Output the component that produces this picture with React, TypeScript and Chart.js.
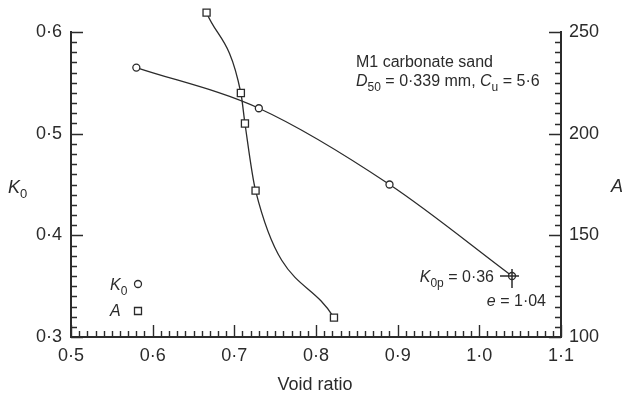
import React, { useEffect, useRef } from "react";
import { Chart, registerables } from "chart.js";

Chart.register(...registerables);

// ---- data ----
const voidRatioK0 = [0.58, 0.73, 0.89, 1.04];
const k0Values = [0.565, 0.525, 0.45, 0.36];
const voidRatioA = [0.666, 0.708, 0.713, 0.726, 0.822];
const aValues = [259.5, 220, 205, 172, 109.5];

const xRange = [0.5, 1.1];
const k0Range = [0.3, 0.6];
const aRange = [100, 250];
const xStep = 0.1;
const k0Step = 0.1;
const aStep = 50;

const FONT = '"Liberation Sans", Arial, Helvetica, sans-serif';
const INK = "#2b2b2b";

const fmt = (v: number) => v.toFixed(1).replace(".", "\u00B7");

type Part = { t: string; it?: boolean; sub?: boolean };

function drawRich(
  ctx: CanvasRenderingContext2D,
  parts: Part[],
  x: number,
  y: number,
  align: "left" | "right" | "center",
  size: number
) {
  const subSize = Math.round(size * 0.72);
  const fontFor = (p: Part) =>
    `${p.it ? "italic " : ""}${p.sub ? subSize : size}px ${FONT}`;
  const widths = parts.map((p) => {
    ctx.font = fontFor(p);
    return ctx.measureText(p.t).width;
  });
  const total = widths.reduce((a, b) => a + b, 0);
  let cx = align === "left" ? x : align === "right" ? x - total : x - total / 2;
  ctx.textBaseline = "alphabetic";
  ctx.textAlign = "left";
  parts.forEach((p, i) => {
    ctx.font = fontFor(p);
    ctx.fillText(p.t, cx, p.sub ? y + size * 0.3 : y);
    cx += widths[i];
  });
}

const decorPlugin = {
  id: "decor",
  afterDatasetsDraw(chart: any) {
    const ctx: CanvasRenderingContext2D = chart.ctx;
    const area = chart.chartArea;
    // points that lie outside the chart area are skipped by Chart.js: draw them here
    chart.data.datasets.forEach((_: any, di: number) => {
      const meta = chart.getDatasetMeta(di);
      meta.data.forEach((pt: any) => {
        if (pt.y < area.top - 2 || pt.y > area.bottom + 2) pt.draw(ctx);
      });
    });
    const x = chart.scales.x;
    const y = chart.scales.y;
    const last = voidRatioK0.length - 1;
    const px = x.getPixelForValue(voidRatioK0[last]);
    const py = y.getPixelForValue(k0Values[last]);
    ctx.save();
    ctx.strokeStyle = INK;
    ctx.lineWidth = 1.5;
    ctx.beginPath();
    ctx.moveTo(px - 12, py);
    ctx.lineTo(px + 7, py);
    ctx.moveTo(px, py - 7);
    ctx.lineTo(px, py + 12);
    ctx.stroke();
    ctx.restore();
  },
  afterDraw(chart: any) {
    const ctx: CanvasRenderingContext2D = chart.ctx;
    const { left, right, top, bottom } = chart.chartArea;
    const x = chart.scales.x;
    const y = chart.scales.y;
    const y1 = chart.scales.y1;
    ctx.save();
    ctx.strokeStyle = INK;
    ctx.lineWidth = 1.4;
    const MAJ = 12;
    const MIN = 6;
    ctx.beginPath();
    // x ticks
    const nx = Math.round((xRange[1] - xRange[0]) / 0.01);
    for (let i = 0; i <= nx; i++) {
      const v = xRange[0] + i * 0.01;
      const p = Math.round(x.getPixelForValue(v)) + 0.5;
      const len = i % 10 === 0 ? MAJ : MIN;
      ctx.moveTo(p, bottom);
      ctx.lineTo(p, bottom - len);
    }
    // left ticks
    const ny = Math.round((k0Range[1] - k0Range[0]) / 0.01);
    for (let i = 0; i <= ny; i++) {
      const v = k0Range[0] + i * 0.01;
      const p = Math.round(y.getPixelForValue(v)) + 0.5;
      const len = i % 10 === 0 ? MAJ : MIN;
      ctx.moveTo(left, p);
      ctx.lineTo(left + len, p);
    }
    // right ticks
    const na = Math.round((aRange[1] - aRange[0]) / 5);
    for (let i = 0; i <= na; i++) {
      const v = aRange[0] + i * 5;
      const p = Math.round(y1.getPixelForValue(v)) + 0.5;
      const len = i % 10 === 0 ? MAJ : MIN;
      ctx.moveTo(right, p);
      ctx.lineTo(right - len, p);
    }
    ctx.stroke();

    ctx.fillStyle = INK;
    // axis titles
    drawRich(ctx, [{ t: "K", it: true }, { t: "0", sub: true }], 8, 193, "left", 18);
    drawRich(ctx, [{ t: "A", it: true }], 611, 192, "left", 18);
    drawRich(ctx, [{ t: "Void ratio" }], 315, 390, "center", 18);

    // annotation
    drawRich(ctx, [{ t: "M1 carbonate sand" }], 356, 67, "left", 16);
    drawRich(
      ctx,
      [
        { t: "D", it: true },
        { t: "50", sub: true },
        { t: " = 0\u00B7339 mm, " },
        { t: "C", it: true },
        { t: "u", sub: true },
        { t: " = 5\u00B76" },
      ],
      356,
      86,
      "left",
      16
    );
    drawRich(
      ctx,
      [{ t: "K", it: true }, { t: "0p", sub: true }, { t: " = 0\u00B736" }],
      494,
      282,
      "right",
      16
    );
    drawRich(ctx, [{ t: "e", it: true }, { t: " = 1\u00B704" }], 546, 306, "right", 16);

    // legend
    drawRich(ctx, [{ t: "K", it: true }, { t: "0", sub: true }], 110, 290, "left", 16);
    drawRich(ctx, [{ t: "A", it: true }], 110, 316, "left", 16);
    ctx.lineWidth = 1.3;
    ctx.fillStyle = "#fff";
    ctx.beginPath();
    ctx.arc(138, 284, 3.5, 0, Math.PI * 2);
    ctx.fill();
    ctx.stroke();
    ctx.beginPath();
    ctx.rect(134.5, 307.5, 7, 7);
    ctx.fill();
    ctx.stroke();
    ctx.restore();
  },
};

export default function App() {
  const ref = useRef<HTMLCanvasElement | null>(null);
  useEffect(() => {
    if (!ref.current) return;
    const chart = new Chart(ref.current, {
      type: "scatter",
      data: {
        datasets: [
          {
            label: "K0",
            data: voidRatioK0.map((v, i) => ({ x: v, y: k0Values[i] })),
            yAxisID: "y",
            showLine: true,
            cubicInterpolationMode: "monotone",
            borderColor: INK,
            borderWidth: 1.3,
            pointStyle: "circle",
            pointRadius: 3.5,
            pointBorderWidth: 1.3,
            pointBackgroundColor: "#fff",
            pointBorderColor: INK,
            clip: false,
          },
          {
            label: "A",
            data: voidRatioA.map((v, i) => ({ x: v, y: aValues[i] })),
            yAxisID: "y1",
            showLine: true,
            cubicInterpolationMode: "monotone",
            borderColor: INK,
            borderWidth: 1.3,
            pointStyle: "rect",
            pointRadius: 5,
            pointBorderWidth: 1.3,
            pointBackgroundColor: "#fff",
            pointBorderColor: INK,
            clip: false,
          },
        ],
      },
      options: {
        animation: false,
        responsive: false,
        devicePixelRatio: 1,
        layout: { padding: { top: 32, left: 0, right: 0, bottom: 0 } },
        plugins: {
          legend: { display: false },
          tooltip: { enabled: false },
        },
        scales: {
          x: {
            type: "linear",
            position: "bottom",
            min: xRange[0],
            max: xRange[1],
            afterBuildTicks: (s: any) => {
              const t = [];
              for (let v = xRange[0]; v <= xRange[1] + 1e-9; v += xStep) t.push({ value: +v.toFixed(2) });
              s.ticks = t;
            },
            ticks: {
              callback: (v: any) => fmt(Number(v)),
              color: INK,
              font: { family: FONT, size: 18 },
              padding: 8,
              maxRotation: 0,
              autoSkip: false,
            },
            grid: { display: false, drawTicks: false },
            border: { display: true, width: 2, color: INK },
            afterFit: (s: any) => {
              s.height = 62;
            },
          },
          y: {
            type: "linear",
            position: "left",
            min: k0Range[0],
            max: k0Range[1],
            afterBuildTicks: (s: any) => {
              const t = [];
              for (let v = k0Range[0]; v <= k0Range[1] + 1e-9; v += k0Step) t.push({ value: +v.toFixed(2) });
              s.ticks = t;
            },
            ticks: {
              callback: (v: any) => fmt(Number(v)),
              color: INK,
              font: { family: FONT, size: 18 },
              padding: 9,
              autoSkip: false,
            },
            grid: { display: false, drawTicks: false },
            border: { display: true, width: 2, color: INK },
            afterFit: (s: any) => {
              s.width = 71;
            },
          },
          y1: {
            type: "linear",
            position: "right",
            min: aRange[0],
            max: aRange[1],
            ticks: {
              stepSize: aStep,
              color: INK,
              font: { family: FONT, size: 18 },
              padding: 8,
              autoSkip: false,
            },
            grid: { display: false, drawTicks: false },
            border: { display: true, width: 2, color: INK },
            afterFit: (s: any) => {
              s.width = 62;
            },
          },
        },
      },
      plugins: [decorPlugin],
    } as any);
    return () => chart.destroy();
  }, []);
  return (
    <div style={{ position: "fixed", left: 0, top: 0, width: 623, height: 399, background: "#fff" }}>
      <canvas ref={ref} width={623} height={399} />
    </div>
  );
}
